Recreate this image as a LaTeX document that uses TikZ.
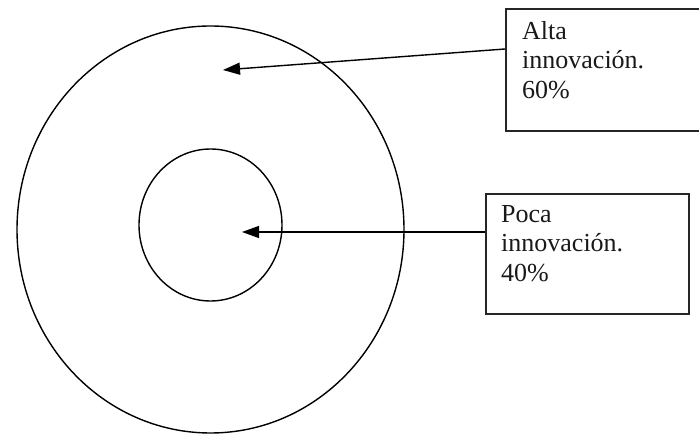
\documentclass[tikz,border=0pt]{standalone}
\usepackage{fontspec}
\setmainfont{Liberation Serif}
\usetikzlibrary{arrows.meta,shapes.geometric}
\begin{document}
\begin{tikzpicture}[x=1pt,y=-1pt,
  ring/.style={draw=black,line width=1.4pt},
  labelbox/.style={draw=black!85,line width=1.8pt,rectangle,anchor=north west,inner sep=0pt},
  labeltext/.style={anchor=north west,inner sep=0pt,align=left,text=black!90,font=\fontsize{26}{29.5}\selectfont},
  pointer/.style={draw=black,line width=1.4pt,-{Triangle[length=17pt,width=12pt]}}]
\useasboundingbox (0,0) rectangle (699,435);
\clip (0,0) rectangle (699,435);
\node[ring,ellipse,minimum width=387pt,minimum height=407pt,inner sep=0pt] (outer) at (210.5,229.5) {};
\node[ring,ellipse,minimum width=143pt,minimum height=152pt,inner sep=0pt] (inner) at (210.5,225) {};
\node[labelbox,minimum width=210pt,minimum height=122pt] (box1) at (505,8) {};
\node[labelbox,minimum width=203pt,minimum height=120pt] (box2) at (485,193) {};
\node[labeltext] (t1) at (522,21) {Alta\\innovación.\\60\%};
\node[labeltext] (t2) at (501,205) {Poca\\innovación.\\40\%};
\coordinate (s1) at (505,49);
\coordinate (e1) at (223,70);
\coordinate (s2) at (485,232);
\coordinate (e2) at (242,232);
\draw[pointer] (s1) -- (e1);
\draw[pointer] (s2) -- (e2);
\end{tikzpicture}
\end{document}
